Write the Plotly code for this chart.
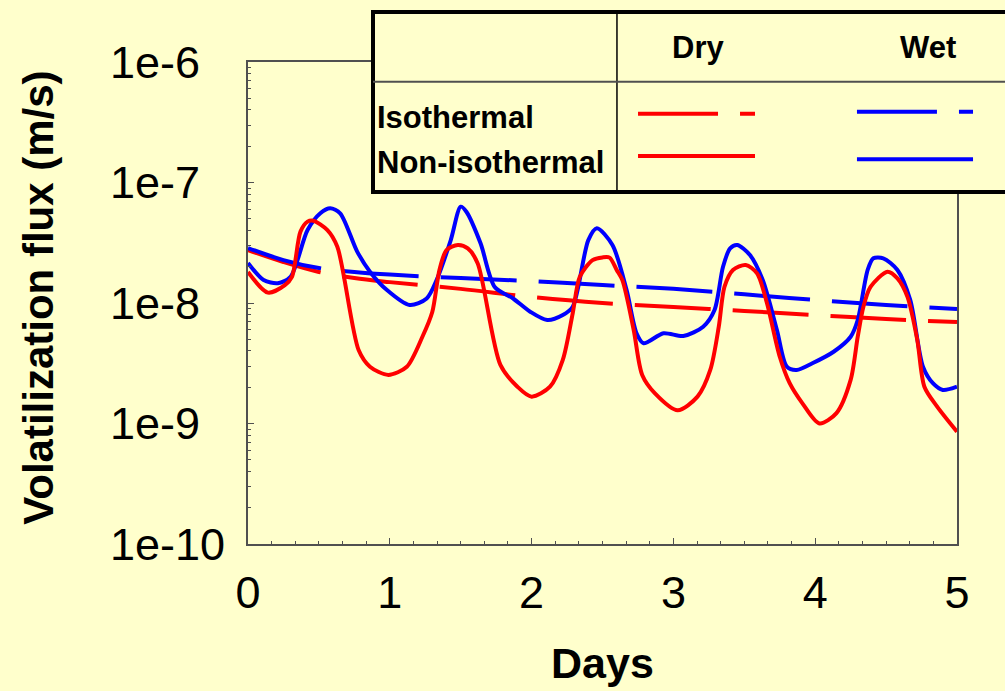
import math
import plotly.graph_objects as go

# ---- data -------------------------------------------------------------
# Non-isothermal runs (days, flux in m/s)
days_dry_noniso = [0, 0.14, 0.26, 0.31, 0.37, 0.42, 0.46, 0.56, 0.63, 0.78, 0.86, 0.99,
                   1.12, 1.23, 1.30, 1.35, 1.40, 1.48, 1.55, 1.62, 1.78, 1.90, 2.00,
                   2.13, 2.22, 2.29, 2.34, 2.43, 2.50, 2.55, 2.60, 2.64, 2.72, 2.78,
                   2.87, 3.03, 3.17, 3.26, 3.32, 3.36, 3.42, 3.51, 3.59, 3.66, 3.75,
                   3.82, 3.91, 4.03, 4.15, 4.25, 4.30, 4.34, 4.39, 4.51, 4.58, 4.65,
                   4.72, 4.77, 4.86, 5.00]
flux_dry_noniso = [1.81e-8, 1.22e-8, 1.41e-8, 1.65e-8, 3.91e-8, 4.73e-8, 4.82e-8, 4.03e-8,
                   2.93e-8, 4.07e-9, 2.96e-9, 2.53e-9, 2.96e-9, 5.25e-9, 8.47e-9, 1.88e-8,
                   2.75e-8, 3.03e-8, 2.84e-8, 2.13e-8, 3.06e-9, 2.02e-9, 1.67e-9, 2.02e-9,
                   3.37e-9, 8.22e-9, 1.65e-8, 2.27e-8, 2.39e-8, 2.38e-8, 1.88e-8, 1.55e-8,
                   5.97e-9, 2.53e-9, 1.78e-9, 1.29e-9, 1.67e-9, 2.78e-9, 6.36e-9, 1.36e-8,
                   1.88e-8, 2.07e-8, 1.76e-8, 9.94e-9, 3.58e-9, 2.16e-9, 1.47e-9, 1.00e-9,
                   1.22e-9, 2.30e-9, 5.25e-9, 9.31e-9, 1.36e-8, 1.82e-8, 1.60e-8, 1.13e-8,
                   4.93e-9, 2.02e-9, 1.38e-9, 8.55e-10]

days_wet_noniso = [0, 0.11, 0.21, 0.30, 0.42, 0.51, 0.58, 0.65, 0.77, 0.86, 0.98, 1.14,
                   1.26, 1.33, 1.43, 1.50, 1.54, 1.64, 1.74, 1.87, 1.99, 2.11, 2.22,
                   2.29, 2.40, 2.46, 2.57, 2.67, 2.74, 2.79, 2.93, 3.07, 3.21, 3.29,
                   3.35, 3.40, 3.45, 3.54, 3.63, 3.73, 3.80, 3.87, 3.98, 4.13, 4.25,
                   4.30, 4.37, 4.41, 4.48, 4.58, 4.67, 4.76, 4.83, 4.90, 5.00]
flux_wet_noniso = [2.15e-8, 1.55e-8, 1.46e-8, 1.65e-8, 4.03e-8, 5.55e-8, 6.11e-8, 5.55e-8,
                   2.67e-8, 1.82e-8, 1.28e-8, 9.62e-9, 1.09e-8, 1.55e-8, 3.33e-8, 6.30e-8,
                   5.72e-8, 3.13e-8, 1.36e-8, 1.09e-8, 8.47e-9, 7.23e-9, 7.95e-9, 9.31e-9,
                   3.33e-8, 4.17e-8, 3.03e-8, 1.28e-8, 5.61e-9, 4.63e-9, 5.61e-9, 5.32e-9,
                   6.36e-9, 8.75e-9, 2.00e-8, 2.84e-8, 3.03e-8, 2.50e-8, 1.55e-8, 5.97e-9,
                   2.96e-9, 2.78e-9, 3.16e-9, 3.94e-9, 5.25e-9, 7.23e-9, 1.88e-8, 2.35e-8,
                   2.35e-8, 1.88e-8, 1.06e-8, 2.96e-9, 2.16e-9, 1.90e-9, 2.02e-9]

# Isothermal runs
days_iso = [0, 0.25, 0.5, 0.75, 1, 1.5, 2, 2.5, 3, 3.5, 4, 4.5, 5]
flux_dry_iso = [2.75e-8, 2.19e-8, 1.81e-8, 1.61e-8, 1.49e-8, 1.31e-8, 1.12e-8,
                1.00e-8, 9.27e-9, 8.58e-9, 7.95e-9, 7.36e-9, 6.95e-9]
flux_wet_iso = [2.86e-8, 2.27e-8, 1.95e-8, 1.81e-8, 1.72e-8, 1.61e-8, 1.52e-8,
                1.41e-8, 1.31e-8, 1.18e-8, 1.06e-8, 9.62e-9, 8.91e-9]

y_tick_values = [1e-10, 1e-9, 1e-8, 1e-7, 1e-6]
y_tick_labels = ["1e-10", "1e-9", "1e-8", "1e-7", "1e-6"]
x_tick_values = [0, 1, 2, 3, 4, 5]

# ---- styling ----------------------------------------------------------
BG = "#FFFFCC"
RED = "#FF0000"
BLUE = "#0000FF"
AXIS = "#505050"
FONT = "Arial, 'Liberation Sans', sans-serif"
DASH = "76px,22px"
LW = 4

# minor ticks at 2..9 within each decade of the log axis
y_minor_vals = [k * 10.0 ** e for e in range(-10, -6) for k in range(2, 10)]

fig = go.Figure()

fig.add_trace(go.Scatter(x=days_iso, y=flux_dry_iso, mode="lines",
                         line=dict(color=RED, width=LW, dash=DASH, shape="spline")))
fig.add_trace(go.Scatter(x=days_iso, y=flux_wet_iso, mode="lines",
                         line=dict(color=BLUE, width=LW, dash=DASH, shape="spline")))
fig.add_trace(go.Scatter(x=days_wet_noniso, y=flux_wet_noniso, mode="lines",
                         line=dict(color=BLUE, width=LW, shape="spline", smoothing=0.8)))
fig.add_trace(go.Scatter(x=days_dry_noniso, y=flux_dry_noniso, mode="lines",
                         line=dict(color=RED, width=LW, shape="spline", smoothing=0.8)))

fig.update_layout(
    width=1005, height=691,
    margin=dict(l=248, r=48, t=62, b=147),
    paper_bgcolor=BG, plot_bgcolor=BG,
    showlegend=False,
    font=dict(family=FONT, color="black"),
)

fig.update_xaxes(
    range=[0, 5], tickvals=x_tick_values, ticktext=[str(v) for v in x_tick_values],
    showgrid=False, zeroline=False,
    showline=True, linecolor=AXIS, linewidth=1.5, mirror=True,
    ticks="inside", ticklen=6, tickwidth=1.2, tickcolor=AXIS,
    minor=dict(ticks="inside", ticklen=3, tickwidth=1, tickcolor=AXIS,
               tickmode="linear", tick0=0, dtick=1 / 6, showgrid=False),
    tickfont=dict(size=45, family=FONT, color="black"),
    ticklabelstandoff=8,
)

fig.update_yaxes(
    type="log", range=[-10, -6], tickvals=y_tick_values, showticklabels=False,
    showgrid=False, zeroline=False,
    showline=True, linecolor=AXIS, linewidth=1.5, mirror=True,
    ticks="inside", ticklen=6, tickwidth=1.2, tickcolor=AXIS,
    minor=dict(ticks="inside", ticklen=3, tickwidth=1, tickcolor=AXIS,
               tickmode="array", tickvals=y_minor_vals, showgrid=False),
)

annotations = []
# left-aligned y tick labels
for v, t in zip(y_tick_values, y_tick_labels):
    annotations.append(dict(xref="paper", yref="y", x=-0.1975, y=math.log10(v), text=t,
                            showarrow=False, xanchor="left", yanchor="middle",
                            font=dict(size=45, family=FONT, color="black")))

# axis titles
annotations.append(dict(xref="paper", yref="paper", x=0.5, y=-0.247, text="<b>Days</b>",
                        showarrow=False, xanchor="center", yanchor="middle",
                        font=dict(size=43, family=FONT, color="black")))
annotations.append(dict(xref="paper", yref="paper", x=-0.296, y=0.5114,
                        text="<b>Volatilization flux (m/s)</b>", textangle=-90,
                        showarrow=False, xanchor="center", yanchor="middle",
                        font=dict(size=42, family=FONT, color="black")))

# legend table text
LEG_FONT = dict(size=31, family=FONT, color="black")
annotations += [
    dict(xref="paper", yref="paper", x=0.6354, y=1.0311, text="<b>Dry</b>",
         showarrow=False, xanchor="center", yanchor="middle", font=LEG_FONT),
    dict(xref="paper", yref="paper", x=0.9598, y=1.0311, text="<b>Wet</b>",
         showarrow=False, xanchor="center", yanchor="middle", font=LEG_FONT),
    dict(xref="paper", yref="paper", x=0.1791, y=0.884, text="<b>Isothermal</b>",
         showarrow=False, xanchor="left", yanchor="middle", font=LEG_FONT),
    dict(xref="paper", yref="paper", x=0.1791, y=0.7915, text="<b>Non-isothermal</b>",
         showarrow=False, xanchor="left", yanchor="middle", font=LEG_FONT),
]

shapes = [
    # legend table frame
    dict(type="rect", xref="paper", yref="paper", x0=0.1763, x1=1.15, y0=0.7303, y1=1.1037,
         line=dict(color="black", width=4), fillcolor=BG, layer="above"),
    dict(type="line", xref="paper", yref="paper", x0=0.5204, x1=0.5204, y0=0.7303, y1=1.1037,
         line=dict(color="black", width=1.5)),
    dict(type="line", xref="paper", yref="paper", x0=0.1763, x1=1.15, y0=0.9591, y1=0.9591,
         line=dict(color=AXIS, width=2)),
    # legend line samples
    dict(type="line", xref="paper", yref="paper", x0=0.5501, x1=0.7151, y0=0.8928, y1=0.8928,
         line=dict(color=RED, width=LW, dash="80px,22px")),
    dict(type="line", xref="paper", yref="paper", x0=0.5501, x1=0.7151, y0=0.805, y1=0.805,
         line=dict(color=RED, width=LW)),
    dict(type="line", xref="paper", yref="paper", x0=0.8589, x1=1.0226, y0=0.8969, y1=0.8969,
         line=dict(color=BLUE, width=LW, dash="80px,22px")),
    dict(type="line", xref="paper", yref="paper", x0=0.8589, x1=1.0226, y0=0.7981, y1=0.7981,
         line=dict(color=BLUE, width=LW)),
]

fig.update_layout(annotations=annotations, shapes=shapes)

fig.write_html("out.html")
